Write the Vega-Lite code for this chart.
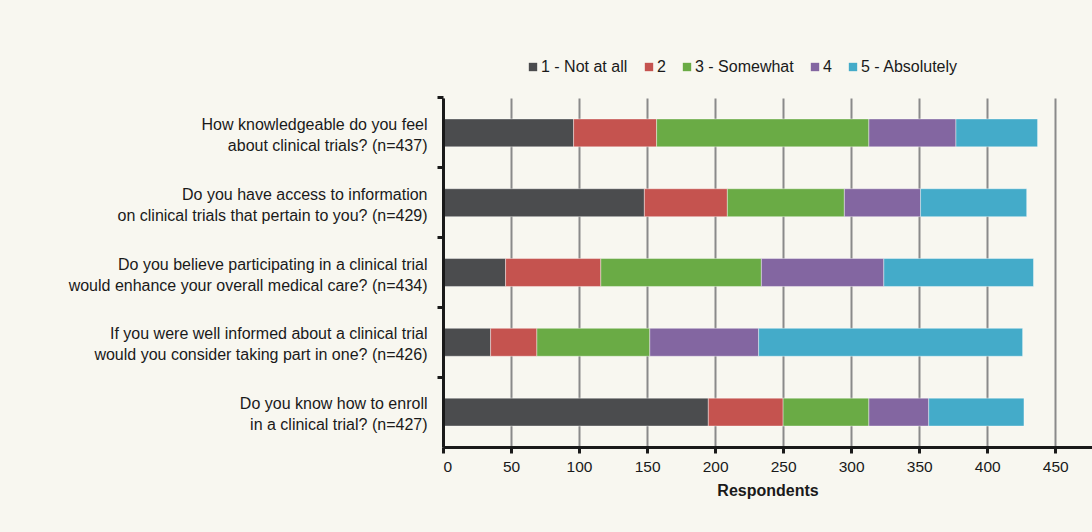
{
  "$schema": "https://vega.github.io/schema/vega-lite/v6.json",
  "autosize": {"type": "none"},
  "width": 649,
  "height": 349,
  "padding": {"left": 443, "top": 98, "right": 0, "bottom": 85},
  "background": "#f8f7f0",
  "config": {"view": {"stroke": null}, "font": "Liberation Sans"},
  "data": {
    "values": [
      {"question": "How knowledgeable do you feel\u00a0|about clinical trials? (n=437)", "answer": "1 - Not at all", "k": 1, "count": 96},
      {"question": "How knowledgeable do you feel\u00a0|about clinical trials? (n=437)", "answer": "2", "k": 2, "count": 61},
      {"question": "How knowledgeable do you feel\u00a0|about clinical trials? (n=437)", "answer": "3 - Somewhat", "k": 3, "count": 156},
      {"question": "How knowledgeable do you feel\u00a0|about clinical trials? (n=437)", "answer": "4", "k": 4, "count": 64},
      {"question": "How knowledgeable do you feel\u00a0|about clinical trials? (n=437)", "answer": "5 - Absolutely", "k": 5, "count": 60},
      {"question": "Do you have access to information\u00a0|on clinical trials that pertain to you? (n=429)", "answer": "1 - Not at all", "k": 1, "count": 148},
      {"question": "Do you have access to information\u00a0|on clinical trials that pertain to you? (n=429)", "answer": "2", "k": 2, "count": 61},
      {"question": "Do you have access to information\u00a0|on clinical trials that pertain to you? (n=429)", "answer": "3 - Somewhat", "k": 3, "count": 86},
      {"question": "Do you have access to information\u00a0|on clinical trials that pertain to you? (n=429)", "answer": "4", "k": 4, "count": 56},
      {"question": "Do you have access to information\u00a0|on clinical trials that pertain to you? (n=429)", "answer": "5 - Absolutely", "k": 5, "count": 78},
      {"question": "Do you believe participating in a clinical trial\u00a0|would enhance your overall medical care? (n=434)", "answer": "1 - Not at all", "k": 1, "count": 46},
      {"question": "Do you believe participating in a clinical trial\u00a0|would enhance your overall medical care? (n=434)", "answer": "2", "k": 2, "count": 70},
      {"question": "Do you believe participating in a clinical trial\u00a0|would enhance your overall medical care? (n=434)", "answer": "3 - Somewhat", "k": 3, "count": 118},
      {"question": "Do you believe participating in a clinical trial\u00a0|would enhance your overall medical care? (n=434)", "answer": "4", "k": 4, "count": 90},
      {"question": "Do you believe participating in a clinical trial\u00a0|would enhance your overall medical care? (n=434)", "answer": "5 - Absolutely", "k": 5, "count": 110},
      {"question": "If you were well informed about a clinical trial\u00a0|would you consider taking part in one? (n=426)", "answer": "1 - Not at all", "k": 1, "count": 35},
      {"question": "If you were well informed about a clinical trial\u00a0|would you consider taking part in one? (n=426)", "answer": "2", "k": 2, "count": 34},
      {"question": "If you were well informed about a clinical trial\u00a0|would you consider taking part in one? (n=426)", "answer": "3 - Somewhat", "k": 3, "count": 83},
      {"question": "If you were well informed about a clinical trial\u00a0|would you consider taking part in one? (n=426)", "answer": "4", "k": 4, "count": 80},
      {"question": "If you were well informed about a clinical trial\u00a0|would you consider taking part in one? (n=426)", "answer": "5 - Absolutely", "k": 5, "count": 194},
      {"question": "Do you know how to enroll\u00a0|in a clinical trial? (n=427)", "answer": "1 - Not at all", "k": 1, "count": 195},
      {"question": "Do you know how to enroll\u00a0|in a clinical trial? (n=427)", "answer": "2", "k": 2, "count": 55},
      {"question": "Do you know how to enroll\u00a0|in a clinical trial? (n=427)", "answer": "3 - Somewhat", "k": 3, "count": 63},
      {"question": "Do you know how to enroll\u00a0|in a clinical trial? (n=427)", "answer": "4", "k": 4, "count": 44},
      {"question": "Do you know how to enroll\u00a0|in a clinical trial? (n=427)", "answer": "5 - Absolutely", "k": 5, "count": 70}
    ]
  },
  "layer": [
    {
      "mark": {"type": "bar", "stroke": "#ffffff", "strokeWidth": 0.8, "strokeOpacity": 0.5},
      "encoding": {
        "y": {
          "field": "question", "type": "nominal", "sort": null,
          "scale": {"paddingInner": 0.6, "paddingOuter": 0.3},
          "axis": {
            "title": null, "orient": "left", "ticks": false, "domain": true,
            "domainColor": "#1a1a1a", "domainWidth": 3,
            "labelExpr": "split(datum.label, '|')",
            "labelFontSize": 16, "labelLineHeight": 21, "labelColor": "#1a1a1a",
            "labelPadding": 16, "labelLimit": 0, "labelOffset": -8, "zindex": 1
          }
        },
        "x": {
          "field": "count", "type": "quantitative", "stack": "zero",
          "scale": {"domain": [0, 477], "nice": false},
          "axis": {
            "title": "Respondents", "values": [0, 50, 100, 150, 200, 250, 300, 350, 400, 450],
            "grid": true, "gridColor": "#8a8a8a", "gridWidth": 2,
            "domainColor": "#1a1a1a", "domainWidth": 3,
            "tickColor": "#1a1a1a", "tickWidth": 3, "tickSize": 6,
            "labelFontSize": 15.5, "labelColor": "#1a1a1a", "labelPadding": 6,
            "titleFontSize": 16, "titleFontWeight": "bold", "titleColor": "#1a1a1a", "titlePadding": 8
          }
        },
        "color": {
          "field": "answer", "type": "nominal",
          "scale": {
            "domain": ["1 - Not at all", "2", "3 - Somewhat", "4", "5 - Absolutely"],
            "range": ["#4b4c4e", "#c5534f", "#6aab45", "#8366a1", "#44abc9"]
          },
          "legend": {
            "orient": "none", "legendX": 82, "legendY": -39, "direction": "horizontal",
            "title": null, "symbolType": "square", "symbolSize": 70, "symbolStrokeWidth": 0,
            "symbolOpacity": 1, "labelFontSize": 16, "labelColor": "#1a1a1a",
            "labelOffset": 0, "columnPadding": 13
          }
        },
        "order": {"field": "k", "type": "quantitative"}
      }
    },
    {
      "mark": {"type": "point", "opacity": 0},
      "encoding": {
        "y": {
          "field": "question", "type": "nominal", "sort": null,
          "axis": {
            "title": null, "orient": "left", "labels": false, "domain": false,
            "ticks": true, "tickColor": "#1a1a1a", "tickWidth": 3, "tickSize": 6,
            "bandPosition": -0.75
          }
        }
      }
    }
  ],
  "resolve": {"axis": {"y": "independent"}}
}
